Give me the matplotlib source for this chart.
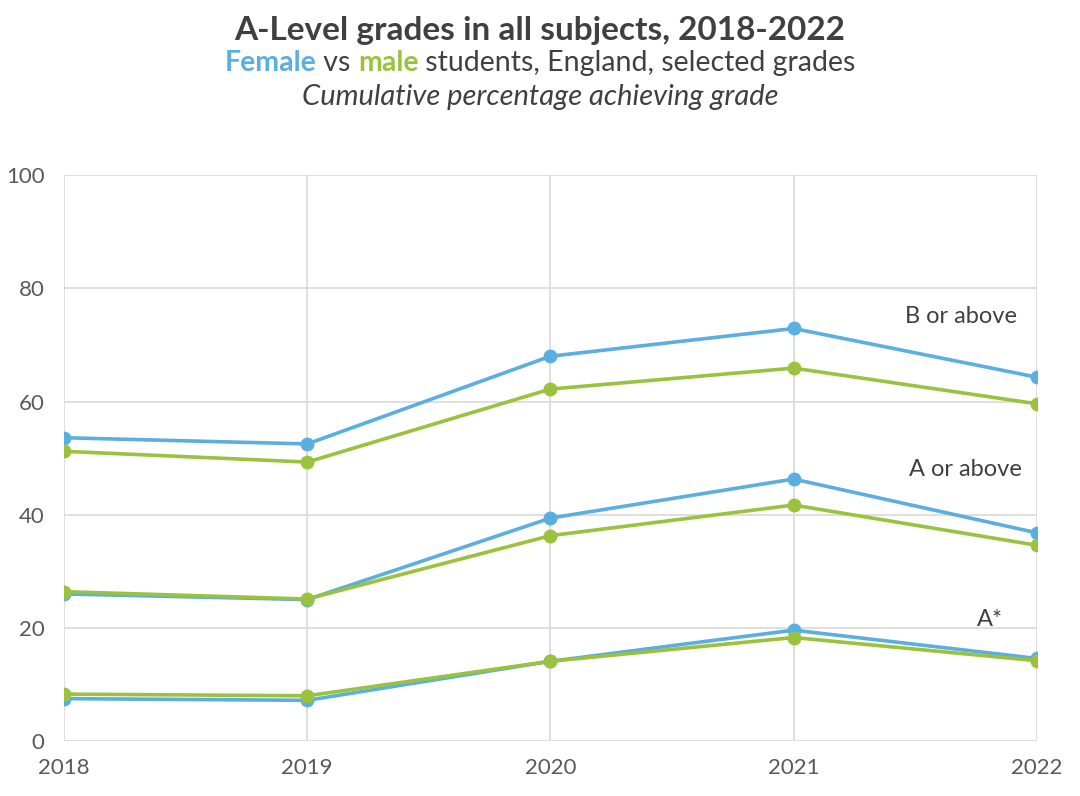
import matplotlib.pyplot as plt

plt.rcParams["font.family"] = ["Lato", "DejaVu Sans"]

years = [2018, 2019, 2020, 2021, 2022]
grades = ["B or above", "A or above", "A*"]

female_b = [53.6, 52.5, 68.0, 72.9, 64.3]
male_b = [51.2, 49.3, 62.2, 65.9, 59.6]
female_a = [26.0, 25.0, 39.4, 46.3, 36.8]
male_a = [26.4, 25.1, 36.3, 41.7, 34.6]
female_astar = [7.5, 7.2, 14.1, 19.6, 14.6]
male_astar = [8.3, 8.0, 14.1, 18.3, 14.2]

female_series = [female_b, female_a, female_astar]
male_series = [male_b, male_a, male_astar]

blue = "#5aaee0"
green = "#9bc23c"
dark = "#404040"
grid_col = "#d9d9d9"

fig = plt.figure(figsize=(10.8, 7.96), dpi=100)
ax = fig.add_axes([0.0593, 0.069, 0.9007, 0.711])

for f, m in zip(female_series, male_series):
    ax.plot(years, f, color=blue, lw=2.6, marker="o", ms=9, zorder=3)
    ax.plot(years, m, color=green, lw=2.6, marker="o", ms=9, zorder=4)

ax.set_xlim(2018, 2022)
ax.set_ylim(0, 100)
ax.set_xticks(years)
ax.set_yticks(range(0, 101, 20))
ax.grid(True, color=grid_col, lw=1.2)
ax.set_axisbelow(True)
for s in ax.spines.values():
    s.set_visible(False)
ax.tick_params(length=0, labelsize=16, colors="#595959")
ax.tick_params(axis="x", pad=12)
ax.tick_params(axis="y", pad=14)

# grade labels
label_pos = [(2021.92, 75), (2021.94, 48), (2021.86, 21.5)]
for g, (lx, ly) in zip(grades, label_pos):
    ax.text(lx, ly, g, ha="right", va="center", fontsize=17, color=dark)

# titles
fig.text(0.5, 0.962, "A-Level grades in all subjects, 2018-2022", ha="center",
         va="center", fontsize=24, fontweight="bold", color=dark)

parts = [("Female", blue, "bold"), (" vs ", dark, "normal"), ("male", green, "bold"),
         (" students, England, selected grades", dark, "normal")]
renderer = fig.canvas.get_renderer()
texts = []
for s, c, w in parts:
    t = fig.text(0, 0.921, s, ha="left", va="center", fontsize=20.5, color=c, fontweight=w)
    texts.append(t)
widths = [t.get_window_extent(renderer).width for t in texts]
total = sum(widths)
x0 = (fig.bbox.width - total) / 2
for t, w in zip(texts, widths):
    t.set_x(x0 / fig.bbox.width)
    x0 += w

fig.text(0.5, 0.878, "Cumulative percentage achieving grade", ha="center", va="center",
         fontsize=21, style="italic", color=dark)

fig.savefig("out.png", dpi=100)
